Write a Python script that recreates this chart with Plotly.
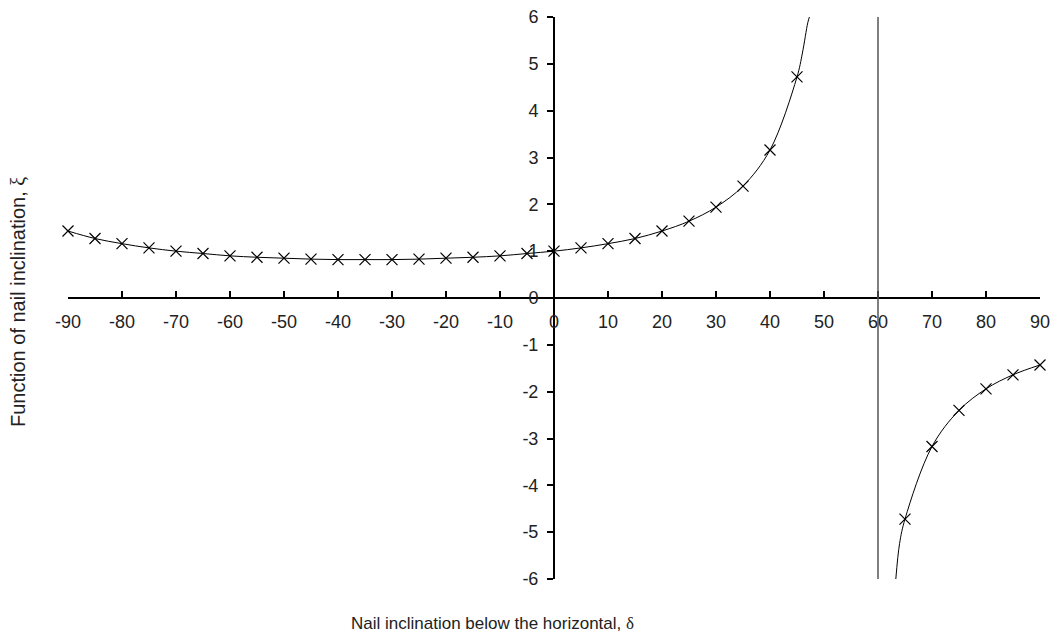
import plotly.graph_objects as go

# Marker points (degrees, function value)
left_deg = [-90, -85, -80, -75, -70, -65, -60, -55, -50, -45, -40, -35, -30, -25,
            -20, -15, -10, -5, 0, 5, 10, 15, 20, 25, 30, 35, 40, 45]
left_xi = [1.43, 1.27, 1.16, 1.07, 1.00, 0.95, 0.90, 0.87, 0.85, 0.83, 0.82, 0.82,
           0.82, 0.83, 0.85, 0.87, 0.90, 0.95, 1.00, 1.07, 1.16, 1.27, 1.43, 1.64,
           1.94, 2.39, 3.16, 4.72]
right_deg = [65, 70, 75, 80, 85, 90]
right_xi = [-4.72, -3.17, -2.40, -1.94, -1.64, -1.43]

# Extra curve points near the asymptote where the line leaves the plot
left_tail_deg = [46, 47, 47.3]
left_tail_xi = [5.23, 5.88, 6.0]
right_head_deg = [63.3, 64]
right_head_xi = [-6.0, -5.24]

asymptote_deg = 60
x_ticks = list(range(-90, 91, 10))
y_ticks = list(range(-6, 7, 1))

W, H = 1050, 632
L, R, T, B = 68, 10, 17, 53
pw, ph = W - L - R, H - T - B

fig = go.Figure()

fig.add_trace(go.Scatter(x=left_deg + left_tail_deg, y=left_xi + left_tail_xi,
                         mode="lines", line=dict(color="black", width=1, shape="spline"),
                         showlegend=False, hoverinfo="skip"))
fig.add_trace(go.Scatter(x=right_head_deg + right_deg, y=right_head_xi + right_xi,
                         mode="lines", line=dict(color="black", width=1, shape="spline"),
                         showlegend=False, hoverinfo="skip"))
fig.add_trace(go.Scatter(x=left_deg + right_deg, y=left_xi + right_xi, mode="markers",
                         marker=dict(symbol="x-thin", size=11, line=dict(color="black", width=1.2)),
                         cliponaxis=False, showlegend=False))

fig.add_shape(type="line", x0=asymptote_deg, x1=asymptote_deg, y0=-6.02, y1=6.1,
              xref="x", yref="y", line=dict(color="#555555", width=1.5))

tick_font = dict(family="Liberation Sans, Arial, sans-serif", size=18, color="#222222")
xtitle_font = dict(family="Liberation Sans, Arial, sans-serif", size=17, color="#222222")
ytitle_font = dict(family="Liberation Sans, Arial, sans-serif", size=20, color="#222222")
greek = '<span style="font-family:Liberation Serif, Times New Roman, serif">{}</span>'

fig.update_layout(
    width=W, height=H,
    margin=dict(l=L, r=R, t=T, b=B),
    paper_bgcolor="white", plot_bgcolor="white",
    font=tick_font,
    xaxis=dict(range=[-90, 90], tickvals=x_ticks, ticktext=[str(v) for v in x_ticks],
               showgrid=False, zeroline=False, showline=True, linecolor="black", linewidth=2,
               ticks="inside", ticklen=6, tickwidth=2, tickcolor="black",
               anchor="free", position=0.5, tickfont=tick_font, automargin=False,
               ticklabeloverflow="allow", ticklabelstandoff=7),
    yaxis=dict(range=[-6, 6], tickvals=y_ticks, ticktext=[str(v) for v in y_ticks],
               showgrid=False, zeroline=False, showline=True, linecolor="black", linewidth=2,
               ticks="outside", ticklen=6, tickwidth=2, tickcolor="black",
               anchor="free", position=0.5, tickfont=tick_font, automargin=False,
               ticklabeloverflow="allow", ticklabelstandoff=5),
    annotations=[
        dict(text="Nail inclination below the horizontal, " + greek.format("δ"),
             xref="paper", yref="paper",
             x=(492 - L) / pw, y=-(623 - (H - B)) / ph, showarrow=False, font=xtitle_font,
             xanchor="center", yanchor="middle"),
        dict(text="Function of nail inclination, " + greek.format("ξ"),
             xref="paper", yref="paper",
             x=-(L - 18) / pw, y=(H - B - 302) / ph, showarrow=False, font=ytitle_font,
             textangle=-90, xanchor="center", yanchor="middle"),
    ],
)

fig.write_html(
    "out.html",
    config={"displayModeBar": False},
    post_script="document.body.style.margin='0';document.body.style.overflow='hidden';",
)
